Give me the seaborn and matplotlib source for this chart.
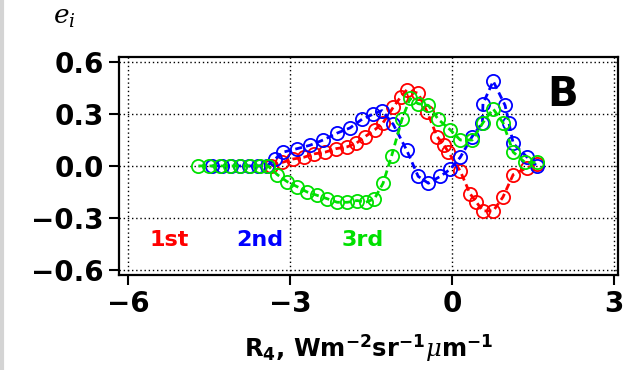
import matplotlib
matplotlib.use("Agg")
import matplotlib.pyplot as plt
from matplotlib.lines import Line2D
import seaborn as sns
import pandas as pd

# ---------------- data ----------------
series_names = ["1st", "2nd", "3rd"]
series_colors = ["#ff0000", "#0000ff", "#00e000"]

x_1st = [-3.35, -3.15, -2.95, -2.75, -2.55, -2.35, -2.15, -1.95, -1.78, -1.61,
         -1.43, -1.28, -1.09, -0.95, -0.84, -0.63, -0.46, -0.28, -0.15, -0.07,
         0.15, 0.33, 0.45, 0.57, 0.76, 0.94, 1.13, 1.39, 1.57]
y_1st = [0.00, 0.02, 0.04, 0.05, 0.07, 0.08, 0.10, 0.11, 0.13, 0.17,
         0.21, 0.25, 0.34, 0.40, 0.44, 0.42, 0.31, 0.17, 0.12, 0.08,
         -0.03, -0.16, -0.21, -0.26, -0.26, -0.18, -0.05, -0.01, 0.01]

x_2nd = [-4.45, -4.27, -4.10, -3.93, -3.76, -3.60, -3.43, -3.28, -3.13, -2.87,
         -2.63, -2.39, -2.13, -1.89, -1.67, -1.46, -1.30, -1.09, -0.84, -0.63,
         -0.44, -0.22, -0.04, 0.15, 0.37, 0.56, 0.57, 0.76, 0.98, 1.05,
         1.13, 1.39, 1.57]
y_2nd = [0.00, 0.00, 0.00, 0.00, 0.00, 0.00, 0.00, 0.04, 0.08, 0.10,
         0.12, 0.15, 0.19, 0.22, 0.27, 0.30, 0.32, 0.24, 0.09, -0.06,
         -0.10, -0.06, -0.02, 0.05, 0.17, 0.25, 0.36, 0.49, 0.35, 0.25,
         0.13, 0.05, 0.00]

x_3rd = [-4.70, -4.50, -4.30, -4.11, -3.93, -3.74, -3.56, -3.41, -3.24, -3.06,
         -2.87, -2.69, -2.50, -2.31, -2.13, -1.94, -1.76, -1.60, -1.44, -1.28,
         -1.12, -0.93, -0.78, -0.63, -0.44, -0.26, -0.04, 0.15, 0.37, 0.57,
         0.76, 0.94, 1.13, 1.35, 1.57]
y_3rd = [0.00, 0.00, 0.00, 0.00, 0.00, 0.00, 0.00, 0.00, -0.05, -0.09,
         -0.12, -0.15, -0.17, -0.19, -0.21, -0.21, -0.20, -0.21, -0.19, -0.10,
         0.06, 0.27, 0.39, 0.36, 0.35, 0.27, 0.21, 0.15, 0.15, 0.25,
         0.33, 0.25, 0.08, 0.02, 0.02]

x_ticks = [-6, -3, 0, 3]
x_tick_labels = ["\u22126", "\u22123", "0", "3"]
y_ticks = [0.6, 0.3, 0.0, -0.3, -0.6]
y_tick_labels = ["0.6", "0.3", "0.0", "\u22120.3", "\u22120.6"]

x_label = r"R$_4$, Wm$^{-2}$sr$^{-1}$$\mu$m$^{-1}$"
y_label = r"$e_i$"
panel_label = "B"

# ---------------- style ----------------
sns.set_style("white")
plt.rcParams["font.family"] = ["DejaVu Sans"]
plt.rcParams["mathtext.fontset"] = "custom"
plt.rcParams["mathtext.rm"] = "DejaVu Sans:bold"
plt.rcParams["mathtext.bf"] = "DejaVu Sans:bold"
plt.rcParams["mathtext.it"] = "DejaVu Serif:italic"

frames = []
for name, xs, ys in [("1st", x_1st, y_1st), ("2nd", x_2nd, y_2nd), ("3rd", x_3rd, y_3rd)]:
    frames.append(pd.DataFrame({"x": xs, "y": ys, "series": name, "order": range(len(xs))}))
df = pd.concat(frames, ignore_index=True)

fig, ax = plt.subplots(figsize=(6.28, 3.70), dpi=100)
fig.subplots_adjust(left=0.1895, right=0.984, bottom=0.257, top=0.846)

for name, color in zip(series_names, series_colors):
    sub = df[df["series"] == name]
    sns.lineplot(data=sub, x="x", y="y", ax=ax, sort=False, estimator=None,
                 color=color, lw=2.0, linestyle=(0, (2.5, 1.5)),
                 marker="o", markersize=9.5, markerfacecolor="none",
                 markeredgecolor=color, markeredgewidth=1.3)

ax.set_xlim(-6.17, 3.07)
ax.set_ylim(-0.63, 0.63)
ax.set_xticks(x_ticks)
ax.set_xticklabels(x_tick_labels, fontsize=20, fontweight="bold", color="black")
ax.set_yticks(y_ticks)
ax.set_yticklabels(y_tick_labels, fontsize=20, fontweight="bold", color="black")
ax.tick_params(axis="both", direction="out", length=7, width=1.5, pad=4,
               colors="black", bottom=True, left=True, top=False, right=False)
ax.grid(True, color="black", linestyle=(0, (1, 2)), linewidth=1.0)
for sp in ax.spines.values():
    sp.set_color("black")
    sp.set_linewidth(1.6)

ax.set_xlabel(x_label, fontsize=17.5, fontweight="bold", labelpad=10, color="black")
ax.set_ylabel("")

# series labels
label_pos = {"1st": -5.6, "2nd": -4.0, "3rd": -2.05}
for name, color in zip(series_names, series_colors):
    ax.text(label_pos[name], -0.43, name, color=color, fontsize=16,
            fontweight="bold", ha="left", va="center")

ax.text(2.04, 0.41, panel_label, fontsize=29, fontweight="bold",
        ha="center", va="center", color="black")

fig.text(0.103, 0.955, y_label, fontsize=19, ha="center", va="center", color="black")

fig.add_artist(Line2D([0.003, 0.003], [0, 1], color="#d4d4d4", lw=3,
                      transform=fig.transFigure))

fig.savefig("out.png", dpi=100)
